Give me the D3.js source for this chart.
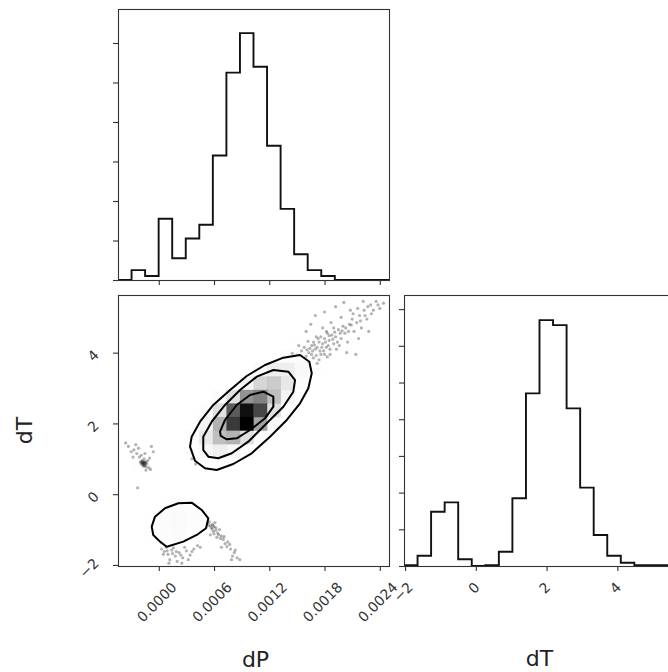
<!DOCTYPE html>
<html>
<head>
<meta charset="utf-8">
<script src="https://cdn.jsdelivr.net/npm/d3@7"></script>
<style>
  body { margin: 0; background: #fff; }
  svg { display: block; font-family: "DejaVu Sans", sans-serif; }
</style>
</head>
<body>
<div id="chart"></div>
<script>
'use strict';

// axis ranges + ticks
var dpDomain = [-0.000443, 0.0025];
var dtDomain = [-2.03, 5.63];
var dpTicks = [0, 0.0006, 0.0012, 0.0018, 0.0024];
var dpTickLabels = ['0.0000', '0.0006', '0.0012', '0.0018', '0.0024'];
var dtTicks = [-2, 0, 2, 4];
var dtTickLabels = ['\u22122', '0', '2', '4'];

// 1D histograms, 20 bins over each range
var dpCounts = [0, 5, 2, 31, 11, 21, 28, 63, 105, 125, 108, 68, 36, 13, 5, 2, 0, 0, 0, 0];
var dtCounts = [0.4, 5.6, 29.6, 34.7, 3.7, 0, 0.4, 7.8, 36.9, 94.1, 134, 131.3, 85.9, 42.7, 16.9, 5.6, 1.8, 0.5, 0.5, 0.5];
var dpCountMax = 137.2;
var dtCountMax = 147.7;
var dpCountTicks = [0, 20, 40, 60, 80, 100, 120];
var dtCountTicks = [0, 20, 40, 60, 80, 100, 120, 140];

// 2D density cells: [dP bin, dT bin, relative density 0-100]
var densityCells = [
  [14,17,2],[15,17,3],[16,17,2],
  [13,16,5],[14,16,6],[15,16,4],
  [12,15,10],[13,15,12],[14,15,8],
  [10,14,12],[11,14,25],[12,14,25],[13,14,15],[14,14,5],
  [9,13,20],[10,13,40],[11,13,45],[12,13,30],[13,13,10],
  [7,12,12],[8,12,35],[9,12,65],[10,12,70],[11,12,50],[12,12,20],
  [6,11,10],[7,11,35],[8,11,80],[9,11,97],[10,11,85],[11,11,35],[12,11,8],
  [6,10,20],[7,10,55],[8,10,88],[9,10,100],[10,10,60],[11,10,15],
  [5,9,10],[6,9,30],[7,9,50],[8,9,55],[9,9,35],[10,9,12],
  [5,8,6],[6,8,18],[7,8,25],[8,8,18],[9,8,8],
  [6,7,5],[7,7,5],[1,7,8],
  [3,4,6],[4,4,8],[5,4,6],
  [2,3,6],[3,3,12],[4,3,14],[5,3,10],[6,3,5],
  [2,2,5],[3,2,10],[4,2,12],[5,2,8],[6,2,4],
  [3,1,4],[4,1,4],[5,1,3]
];

// contour levels, [dP, dT] vertices
var contourOuter = [
  [0.000339,1.342],[0.000357,1.625],[0.000448,2.049],[0.000592,2.521],[0.000774,2.945],
  [0.000955,3.340],[0.001154,3.651],[0.001353,3.858],[0.001534,3.934],[0.001635,3.745],
  [0.001661,3.417],[0.001624,2.993],[0.001534,2.569],[0.001390,2.097],[0.001208,1.625],
  [0.001009,1.156],[0.000809,0.853],[0.000629,0.684],[0.000502,0.732],[0.000393,0.947]
];
var contourMiddle = [
  [0.000483,1.249],[0.000483,1.625],[0.000575,2.049],[0.000719,2.521],[0.000882,2.945],
  [0.001064,3.321],[0.001244,3.510],[0.001407,3.462],[0.001480,3.227],[0.001461,2.897],
  [0.001353,2.473],[0.001172,2.004],[0.000972,1.484],[0.000792,1.156],[0.000646,1.015],
  [0.000538,1.060]
];
var contourInner = [
  [0.000665,1.766],[0.000719,2.097],[0.000846,2.521],[0.000991,2.803],[0.001135,2.897],
  [0.001244,2.755],[0.001244,2.473],[0.001154,2.145],[0.000991,1.814],[0.000846,1.580],
  [0.000738,1.551],[0.000673,1.645]
];
var contourLow = [
  [-0.000077,-0.918],[-0.000041,-0.636],[0.000067,-0.398],[0.000212,-0.257],[0.000357,-0.240],
  [0.000466,-0.447],[0.000538,-0.681],[0.000513,-0.964],[0.000412,-1.153],[0.000266,-1.342],
  [0.000086,-1.484],[0.000013,-1.342],[-0.000060,-1.153]
];

// samples that fall outside the lowest contour
var tailPoints = [
  [0.00145,3.98],[0.00150,3.92],[0.00152,4.20],[0.00155,4.05],[0.00158,4.15],[0.00160,3.90],
  [0.00162,4.32],[0.00163,4.00],[0.00166,4.20],[0.00168,3.85],[0.00170,4.10],[0.00171,4.45],
  [0.00172,3.70],[0.00174,4.30],[0.00175,4.05],[0.00176,3.95],[0.00178,4.25],[0.00178,4.70],
  [0.00180,4.40],[0.00182,4.15],[0.00183,4.55],[0.00185,4.35],[0.00186,3.95],[0.00187,4.85],
  [0.00188,4.50],[0.00190,4.25],[0.00190,4.70],[0.00192,4.45],[0.00193,4.10],[0.00195,4.65],
  [0.00196,4.20],[0.00198,4.40],[0.00198,5.00],[0.00200,4.75],[0.00202,4.55],[0.00204,4.00],
  [0.00205,4.30],[0.00207,4.80],[0.00208,5.20],[0.00210,4.95],[0.00212,4.60],[0.00214,3.95],
  [0.00215,4.85],[0.00217,4.40],[0.00218,5.05],[0.00220,4.70],[0.00223,5.20],[0.00226,4.95],
  [0.00228,4.60],[0.00230,5.35],[0.00233,5.20],[0.00236,5.45],[0.00240,5.25],[0.00170,5.05],
  [0.00180,5.15],[0.00201,5.42],[0.00192,5.30],[0.00160,4.60],[0.00165,4.80],[0.00222,5.45],
  [0.00168,4.30],[0.00172,4.15],[0.00176,4.45],[0.00180,3.95],[0.00184,4.20],[0.00166,3.95],
  [0.00174,3.80],[0.00182,4.60],[0.00186,4.10],
  [0.00157,3.80],[0.00161,4.08],[0.00164,4.12],[0.00167,4.05],[0.00169,4.22],[0.00171,3.92],
  [0.00173,4.40],[0.00177,4.15],[0.00179,4.05],[0.00181,4.30],[0.00183,3.88],[0.00185,4.48],
  [0.00189,4.38],[0.00191,4.58],[0.00194,4.30],[0.00197,4.55],[0.00199,4.62],[0.00203,4.70],
  [0.00206,4.60],[0.00209,4.78],[0.00211,5.10],[0.00216,5.25],[0.00219,4.90],[0.00224,5.05],
  [0.00227,5.30],[0.00231,5.10],[0.00238,5.35],[0.00244,5.40]
];
var blobPoints = [
  [-0.00017,0.88],[-0.00015,0.92],[-0.00019,0.85],[-0.00016,0.80],[-0.00013,0.86],[-0.00018,0.95],
  [-0.00014,0.78],[-0.00020,0.90],[-0.00012,0.95],[-0.00016,1.00],[-0.00017,0.84],[-0.00015,0.87],
  [-0.00018,0.90],[-0.00021,1.05],[-0.00024,1.15],[-0.00019,1.10],[-0.00027,1.25],[-0.00030,1.20],
  [-0.00022,1.30],[-0.00033,1.35],[-0.00036,1.45],[-0.00015,1.15],[-0.00010,1.02],[-0.00011,0.75],
  [-0.00009,0.70],[-0.00014,0.68],[-0.00028,1.05],[-0.00006,1.20],[-0.00008,1.35],[-0.00025,1.40],
  [-0.00023,0.18],
  [-0.00016,0.90],[-0.00017,0.92],[-0.00018,0.87],[-0.00016,0.85],[-0.00015,0.82],[-0.00019,0.93],
  [-0.00017,0.80],[-0.00014,0.90]
];
var lowTailPoints = [
  [0.00052,-0.70],[0.00055,-0.78],[0.00054,-0.88],[0.00058,-0.85],[0.00057,-0.95],[0.00060,-0.92],
  [0.00062,-1.02],[0.00059,-1.05],[0.00064,-1.10],[0.00066,-1.00],[0.00068,-1.18],[0.00063,-1.22],
  [0.00070,-1.28],[0.00072,-1.40],[0.00075,-1.35],[0.00078,-1.55],[0.00082,-1.65],[0.00085,-1.80],
  [0.00080,-1.75],[0.00068,-1.50],[0.00056,-1.15],[0.00061,-0.80],[0.00058,-0.98],[0.00060,-1.12],
  [0.00053,-0.82],[0.00056,-0.90],[0.00059,-0.88],[0.00062,-0.95],[0.00065,-1.15],[0.00067,-1.25],
  [0.00071,-1.20],[0.00074,-1.48],[0.00077,-1.42],[0.00083,-1.58],[0.00088,-1.85],[0.00079,-1.85]
];
var belowPoints = [
  [0.00003,-1.55],[0.00006,-1.62],[0.00010,-1.70],[0.00014,-1.58],[0.00018,-1.75],[0.00022,-1.65],
  [0.00026,-1.80],[0.00030,-1.60],[0.00034,-1.72],[0.00020,-1.90],[0.00012,-1.85],[0.00038,-1.55],
  [0.00008,-1.50],[0.00016,-1.52],[0.00028,-1.50],[0.00042,-1.45],[0.00040,0.85],[0.00036,1.00],
  [0.00005,-1.70],[0.00009,-1.60],[0.00015,-1.68],[0.00019,-1.62],[0.00024,-1.72],[0.00032,-1.85],
  [0.00036,-1.62],[0.00045,-1.50],[0.00011,-1.95],[0.00025,-1.95]
];

var WIDTH = 668, HEIGHT = 672;
var SIZE = 271;
var COL0 = 118, COL1 = 404;
var ROW0 = 9, ROW1 = 295;
var NBINS = 20;
var TICK = 5;
var LABEL_SIZE = 14;
var TITLE_SIZE = 22;

var svg = d3.select('#chart').append('svg')
  .attr('width', WIDTH)
  .attr('height', HEIGHT);

var xP = d3.scaleLinear().domain(dpDomain).range([COL0, COL0 + SIZE]);
var xT = d3.scaleLinear().domain(dtDomain).range([COL1, COL1 + SIZE]);
var yT = d3.scaleLinear().domain(dtDomain).range([ROW1 + SIZE, ROW1]);
var yC1 = d3.scaleLinear().domain([0, dpCountMax]).range([ROW0 + SIZE, ROW0]);
var yC2 = d3.scaleLinear().domain([0, dtCountMax]).range([ROW1 + SIZE, ROW1]);

var defs = svg.append('defs');
function clipFor(id, x, y) {
  defs.append('clipPath').attr('id', id)
    .append('rect').attr('x', x).attr('y', y).attr('width', SIZE).attr('height', SIZE);
  return 'url(#' + id + ')';
}

function binEdges(domain) {
  var step = (domain[1] - domain[0]) / NBINS;
  return d3.range(NBINS + 1).map(function (k) { return domain[0] + k * step; });
}

function stepPoints(edges, counts) {
  var pts = [[edges[0], 0]];
  counts.forEach(function (c, k) {
    pts.push([edges[k], c]);
    pts.push([edges[k + 1], c]);
  });
  pts.push([edges[NBINS], 0]);
  return pts;
}

function drawHist(xs, ys, counts, domain, clip) {
  var line = d3.line()
    .x(function (d) { return xs(d[0]); })
    .y(function (d) { return ys(d[1]); });
  svg.append('path')
    .datum(stepPoints(binEdges(domain), counts))
    .attr('clip-path', clip)
    .attr('fill', 'none')
    .attr('stroke', '#111')
    .attr('stroke-width', 1.9)
    .attr('d', line);
}

function frame(x, y) {
  svg.append('rect')
    .attr('x', x + 0.5).attr('y', y + 0.5)
    .attr('width', SIZE).attr('height', SIZE)
    .attr('fill', 'none')
    .attr('stroke', '#333')
    .attr('stroke-width', 1.1);
}

function tickAxis(axis, tx, ty) {
  var g = svg.append('g')
    .attr('transform', 'translate(' + tx + ',' + ty + ')')
    .call(axis.tickSize(TICK).tickSizeOuter(0).tickFormat(''));
  g.select('.domain').remove();
  g.selectAll('.tick line').attr('stroke', '#333').attr('stroke-width', 1.1);
  return g;
}

// rotated (45deg) tick labels, placed like matplotlib's centred bbox
function halfBox(t) {
  var w = t.node().getComputedTextLength();
  return (w + LABEL_SIZE * 0.75) * Math.SQRT1_2 / 2;
}
function xLabels(scale, ticks, labels, top) {
  ticks.forEach(function (v, i) {
    var t = svg.append('text')
      .attr('font-size', LABEL_SIZE)
      .attr('fill', '#333')
      .attr('text-anchor', 'middle')
      .attr('dominant-baseline', 'central')
      .text(labels[i]);
    var h = halfBox(t);
    t.attr('transform', 'translate(' + (scale(v) - 2) + ',' + (top + h) + ') rotate(-45)');
  });
}
function yLabels(scale, ticks, labels, right) {
  ticks.forEach(function (v, i) {
    var t = svg.append('text')
      .attr('font-size', LABEL_SIZE)
      .attr('fill', '#333')
      .attr('text-anchor', 'middle')
      .attr('dominant-baseline', 'central')
      .text(labels[i]);
    var h = halfBox(t);
    t.attr('transform', 'translate(' + (right - h) + ',' + (scale(v) + 3) + ') rotate(-45)');
  });
}

// ---- top-left: dP histogram
drawHist(xP, yC1, dpCounts, dpDomain, clipFor('clipA', COL0, ROW0));
tickAxis(d3.axisBottom(xP).tickValues(dpTicks), 0, ROW0 + SIZE);
tickAxis(d3.axisLeft(yC1).tickValues(dpCountTicks), COL0, 0);
frame(COL0, ROW0);

// ---- bottom-left: dP vs dT
var clipB = clipFor('clipB', COL0, ROW1);
var panel = svg.append('g').attr('clip-path', clipB);

var samples = tailPoints.concat(blobPoints, lowTailPoints, belowPoints);
panel.append('g').selectAll('circle')
  .data(samples)
  .enter().append('circle')
  .attr('cx', function (d) { return xP(d[0]); })
  .attr('cy', function (d) { return yT(d[1]); })
  .attr('r', 1.6)
  .attr('fill', '#000')
  .attr('fill-opacity', 0.3);

var contourLine = d3.line()
  .x(function (d) { return xP(d[0]); })
  .y(function (d) { return yT(d[1]); })
  .curve(d3.curveLinearClosed);

// white base fill hides the dense samples inside the lowest level
panel.selectAll('path.base')
  .data([contourOuter, contourLow])
  .enter().append('path')
  .attr('class', 'base')
  .attr('fill', '#fff')
  .attr('d', contourLine);

var binW = (dpDomain[1] - dpDomain[0]) / NBINS;
var binH = (dtDomain[1] - dtDomain[0]) / NBINS;
panel.append('g').selectAll('rect')
  .data(densityCells)
  .enter().append('rect')
  .attr('x', function (d) { return xP(dpDomain[0] + d[0] * binW); })
  .attr('y', function (d) { return yT(dtDomain[0] + (d[1] + 1) * binH); })
  .attr('width', xP(dpDomain[0] + binW) - xP(dpDomain[0]) + 0.3)
  .attr('height', yT(dtDomain[0]) - yT(dtDomain[0] + binH) + 0.3)
  .attr('fill', function (d) {
    var t = 1 - d[2] / 100;
    return d3.rgb(255 * t, 255 * t, 255 * t);
  })
  .attr('fill-opacity', function (d) { return d[2] / 100; });

panel.selectAll('path.level')
  .data([contourOuter, contourMiddle, contourInner, contourLow])
  .enter().append('path')
  .attr('class', 'level')
  .attr('fill', 'none')
  .attr('stroke', '#000')
  .attr('stroke-width', 2)
  .attr('stroke-linejoin', 'round')
  .attr('d', contourLine);

tickAxis(d3.axisBottom(xP).tickValues(dpTicks), 0, ROW1 + SIZE);
tickAxis(d3.axisLeft(yT).tickValues(dtTicks), COL0, 0);
frame(COL0, ROW1);
xLabels(xP, dpTicks, dpTickLabels, ROW1 + SIZE + 15);
yLabels(yT, dtTicks, dtTickLabels, COL0 - 18);

// ---- bottom-right: dT histogram
drawHist(xT, yC2, dtCounts, dtDomain, clipFor('clipC', COL1, ROW1));
tickAxis(d3.axisBottom(xT).tickValues(dtTicks), 0, ROW1 + SIZE);
tickAxis(d3.axisLeft(yC2).tickValues(dtCountTicks), COL1, 0);
frame(COL1, ROW1);
xLabels(xT, dtTicks, dtTickLabels, ROW1 + SIZE + 15);

// axis titles
svg.append('text')
  .attr('x', COL0 + SIZE / 2 + 2).attr('y', 667)
  .attr('text-anchor', 'middle')
  .attr('font-size', TITLE_SIZE)
  .attr('fill', '#222')
  .text('dP');
svg.append('text')
  .attr('x', COL1 + SIZE / 2).attr('y', 666)
  .attr('text-anchor', 'middle')
  .attr('font-size', TITLE_SIZE)
  .attr('fill', '#222')
  .text('dT');
svg.append('text')
  .attr('transform', 'translate(32,' + (ROW1 + SIZE / 2) + ') rotate(-90)')
  .attr('text-anchor', 'middle')
  .attr('font-size', TITLE_SIZE)
  .attr('fill', '#222')
  .text('dT');
</script>
</body>
</html>
